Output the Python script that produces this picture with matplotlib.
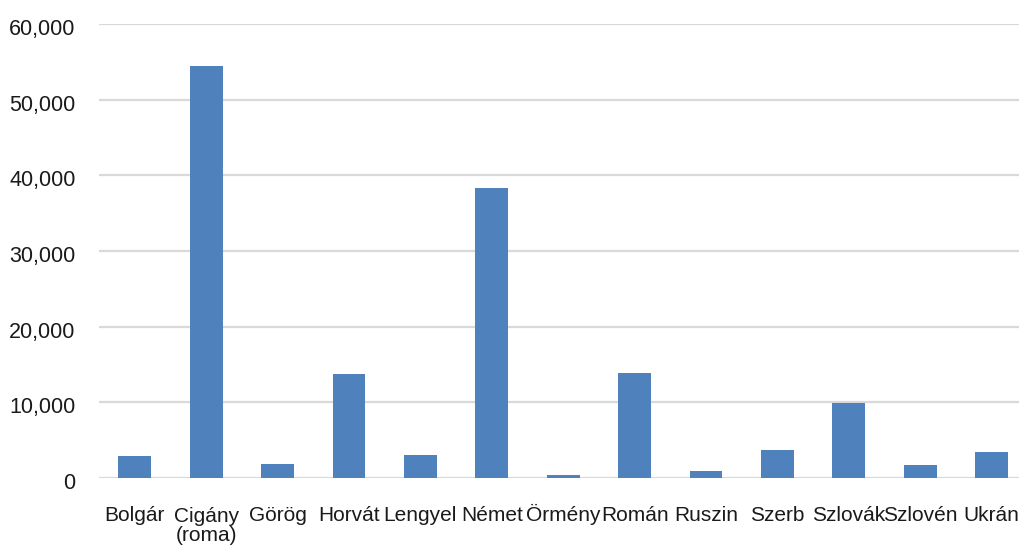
import matplotlib
matplotlib.use("Agg")
import matplotlib.pyplot as plt
from matplotlib.ticker import FuncFormatter, MultipleLocator
from matplotlib.transforms import ScaledTranslation

categories = ["Bolgár", "Cigány\n(roma)", "Görög", "Horvát", "Lengyel", "Német",
              "Örmény", "Román", "Ruszin", "Szerb", "Szlovák", "Szlovén", "Ukrán"]
values = [2900, 54500, 1850, 13750, 3050, 38350, 400, 13900, 950, 3700, 9900, 1700, 3450]

plt.rcParams["font.family"] = ["Liberation Sans", "DejaVu Sans"]

fig = plt.figure(figsize=(10.19, 5.53), dpi=100)
ax = fig.add_axes([0.0972, 0.1356, 0.911, 0.821])

x = range(len(categories))
ax.bar(x, values, width=0.46, color="#4f81bd", zorder=3)

ax.set_xlim(-0.5, len(categories) - 0.5)
ax.set_ylim(0, 60000)
ax.yaxis.set_major_locator(MultipleLocator(10000))
ax.yaxis.set_major_formatter(FuncFormatter(lambda v, p: f"{int(v):,}"))
ax.grid(axis="y", color="#d9d9d9", linewidth=1.6, zorder=0)
ax.set_axisbelow(True)

ax.set_xticks(list(x))
ax.set_xticklabels(categories, fontsize=15, color="#1a1a1a", linespacing=1.0)
ax.tick_params(axis="x", length=0, pad=31)
ax.tick_params(axis="y", length=0, pad=17, labelsize=15.5, labelcolor="#1a1a1a")

# category names share a common baseline; wrapped names continue downward
for lbl in ax.get_xticklabels():
    lbl.set_verticalalignment("baseline")
    extra_lines = lbl.get_text().count("\n")
    if extra_lines:
        lbl.set_transform(lbl.get_transform()
                          + ScaledTranslation(0, -0.195 * extra_lines, fig.dpi_scale_trans))

# value labels sit slightly below their gridlines
for lbl in ax.get_yticklabels():
    lbl.set_verticalalignment("center_baseline")
    lbl.set_transform(lbl.get_transform() + ScaledTranslation(0, -0.03, fig.dpi_scale_trans))

for s in ax.spines.values():
    s.set_visible(False)

fig.savefig("out.png", dpi=100)
